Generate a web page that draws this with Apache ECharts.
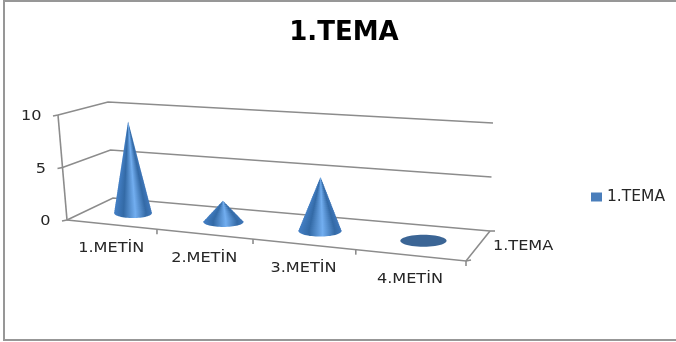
<!DOCTYPE html>
<html>
<head>
<meta charset="utf-8">
<style>html,body{margin:0;padding:0;background:#fff}#chart{width:676px;height:342px}</style>
<script src="https://cdn.jsdelivr.net/npm/echarts@6/dist/echarts.min.js"></script>
</head>
<body>
<div id="chart"></div>
<script>
const categories = ['1.METİN', '2.METİN', '3.METİN', '4.METİN'];
const values = [9, 2, 5, 0];
const valueTicks = [0, 5, 10];
const seriesName = '1.TEMA';
const titleText = '1.TEMA';

// Box corners on screen for the oblique 3D view, front/back at floor and top.
const FLOOR_FRONT = [[67, 220], [466, 261]];
const FLOOR_BACK = [[113, 198], [490, 231]];
const TOP_FRONT = [[58, 115], [476, 143]];
const TOP_BACK = [[108, 102], [493, 123]];
const FORESHORTEN = 1.145;
const GRID = { left: 67, top: 102, width: 399, height: 118 };
const LABEL_FONT = '14px "DejaVu Sans"';
const LABEL_STRETCH = 1.15;
const LINE = { stroke: '#8c8c8c', lineWidth: 1.6, fill: null };
const SHADE = [
  { offset: 0, color: '#4480c6' },
  { offset: 0.25, color: '#336aa6' },
  { offset: 0.56, color: '#72aef0' },
  { offset: 0.84, color: '#346aa6' },
  { offset: 1, color: '#4078bb' }
];
const coneShade = () => new echarts.graphic.LinearGradient(0, 0, 1, 0, SHADE);

const lerp = (a, b, t) => [a[0] + (b[0] - a[0]) * t, a[1] + (b[1] - a[1]) * t];

// u: along the categories, depth: 0 front to 1 back, h: 0 floor to 1 top.
function project(u, depth, h) {
  const t = u / (u + FORESHORTEN * (1 - u));
  const floor = lerp(lerp(FLOOR_FRONT[0], FLOOR_FRONT[1], t), lerp(FLOOR_BACK[0], FLOOR_BACK[1], t), depth);
  const top = lerp(lerp(TOP_FRONT[0], TOP_FRONT[1], t), lerp(TOP_BACK[0], TOP_BACK[1], t), depth);
  return lerp(floor, top, h);
}
const uOf = p => (p[0] - GRID.left) / GRID.width;
const hOf = p => (GRID.top + GRID.height - p[1]) / GRID.height;

function ellipsePoints(c, rx, ry, from, to, steps) {
  const pts = [];
  for (let i = 0; i <= steps; i++) {
    const a = from + (to - from) * i / steps;
    pts.push([c[0] + rx * Math.cos(a), c[1] + ry * Math.sin(a)]);
  }
  return pts;
}

function textEl(text, x, y, align) {
  return {
    type: 'text', x, y, scaleX: LABEL_STRETCH,
    style: { text, x: 0, y: 0, align, verticalAlign: 'middle', font: LABEL_FONT, fill: '#262626' }
  };
}

// A cone is a stack of thin slices, each carrying the full shading band across
// its own width, so the highlight narrows toward the apex.
function renderCone(params, api) {
  const p = api.coord([api.value(0), api.value(1)]);
  const u = uOf(p), h = hOf(p);
  const c = project(u, 0.5, 0);
  const rx = (project(u + 0.054, 0.5, 0)[0] - project(u - 0.054, 0.5, 0)[0]) / 2;
  const ry = rx * 0.26;
  if (h === 0) {
    return { type: 'polygon', shape: { points: ellipsePoints(c, rx, ry, 0, Math.PI * 2, 48) }, style: { fill: '#3b6595' } };
  }
  const apex = project(u, 0.5, h);
  const left = [c[0] - rx, c[1]], right = [c[0] + rx, c[1]];
  const slices = Math.max(4, Math.round((c[1] - apex[1]) / 2));
  const overlap = 0.6 / (c[1] - apex[1]);
  const children = [{
    type: 'polygon',
    shape: { points: ellipsePoints(c, rx, ry, Math.PI, 0, 32).concat([lerp(right, apex, overlap), lerp(left, apex, overlap)]) },
    style: { fill: coneShade() }
  }];
  for (let i = 0; i < slices; i++) {
    const low = i / slices, high = Math.min(1, (i + 1) / slices + overlap);
    children.push({
      type: 'polygon',
      shape: { points: [lerp(left, apex, low), lerp(right, apex, low), lerp(right, apex, high), lerp(left, apex, high)] },
      style: { fill: coneShade() }
    });
  }
  return { type: 'group', children };
}

function renderValueLine(params, api) {
  const v = api.value(1);
  const h = hOf(api.coord([0, v]));
  const a = project(0, 0, h), b = project(0, 1, h), d = project(1, 1, h);
  return {
    type: 'group',
    children: [
      { type: 'polyline', shape: { points: [a, b, d] }, style: LINE },
      { type: 'line', shape: { x1: a[0], y1: a[1], x2: a[0] - 5, y2: a[1] + 1 }, style: LINE },
      textEl(String(v), a[0] - 16.5, a[1] + 1.5, 'right')
    ]
  };
}

function renderCategory(params, api) {
  const p = api.coord([api.value(0), 0]);
  const half = api.size([1, 0])[0] / 2 / GRID.width;
  const u = uOf(p);
  const base = project(u, 0, 0);
  const tick = project(u + half, 0, 0);
  return {
    type: 'group',
    children: [
      { type: 'line', shape: { x1: tick[0], y1: tick[1], x2: tick[0], y2: tick[1] + 5 }, style: LINE },
      textEl(api.value(2), base[0], base[1] + 24, 'center')
    ]
  };
}

// Left wall edge, front floor edge, right floor edge and the depth axis label.
function renderFrame(params, api) {
  const fl = project(0, 0, 0), tl = project(0, 0, 1), fr = project(1, 0, 0), br = project(1, 1, 0);
  const mid = project(1, 0.5, 0);
  return {
    type: 'group',
    children: [
      { type: 'line', shape: { x1: fl[0], y1: fl[1], x2: tl[0], y2: tl[1] }, style: LINE },
      { type: 'polyline', shape: { points: [fl, fr, br] }, style: LINE },
      { type: 'line', shape: { x1: br[0], y1: br[1], x2: br[0] + 5, y2: br[1] }, style: LINE },
      { type: 'line', shape: { x1: fr[0], y1: fr[1], x2: fr[0] + 5, y2: fr[1] - 1 }, style: LINE },
      textEl(seriesName, mid[0] + 15, mid[1], 'left')
    ]
  };
}

const chart = echarts.init(document.getElementById('chart'), null, { renderer: 'canvas' });
chart.setOption({
  animation: false,
  backgroundColor: '#fff',
  title: {
    text: titleText, left: 339, top: 15, textAlign: 'center',
    textStyle: { fontFamily: 'DejaVu Sans', fontWeight: 'bold', fontSize: 26, color: '#000' }
  },
  legend: {
    data: [seriesName], left: 586, top: 184, icon: 'rect', itemWidth: 11, itemHeight: 9,
    textStyle: { fontFamily: 'DejaVu Sans', fontSize: 15.5, color: '#262626' }
  },
  grid: GRID,
  xAxis: { type: 'category', data: categories, show: false },
  yAxis: { type: 'value', min: 0, max: 10, interval: 5, show: false },
  graphic: [{
    type: 'polyline', silent: true,
    shape: { points: [[676, 1], [4, 1], [4, 340], [676, 340]] },
    style: { stroke: '#979797', lineWidth: 2, fill: null }
  }],
  series: [
    { type: 'custom', silent: true, clip: false, z: 1, renderItem: renderValueLine, data: valueTicks.map(v => [0, v]) },
    { type: 'custom', silent: true, clip: false, z: 1, renderItem: renderFrame, data: [[0, 0]] },
    { type: 'custom', silent: true, clip: false, z: 1, renderItem: renderCategory, data: categories.map((c, i) => [i, 0, c]) },
    { type: 'custom', name: seriesName, clip: false, z: 2, itemStyle: { color: '#4a7ebb' }, renderItem: renderCone, data: values.map((v, i) => [i, v]) }
  ]
});
</script>
</body>
</html>
